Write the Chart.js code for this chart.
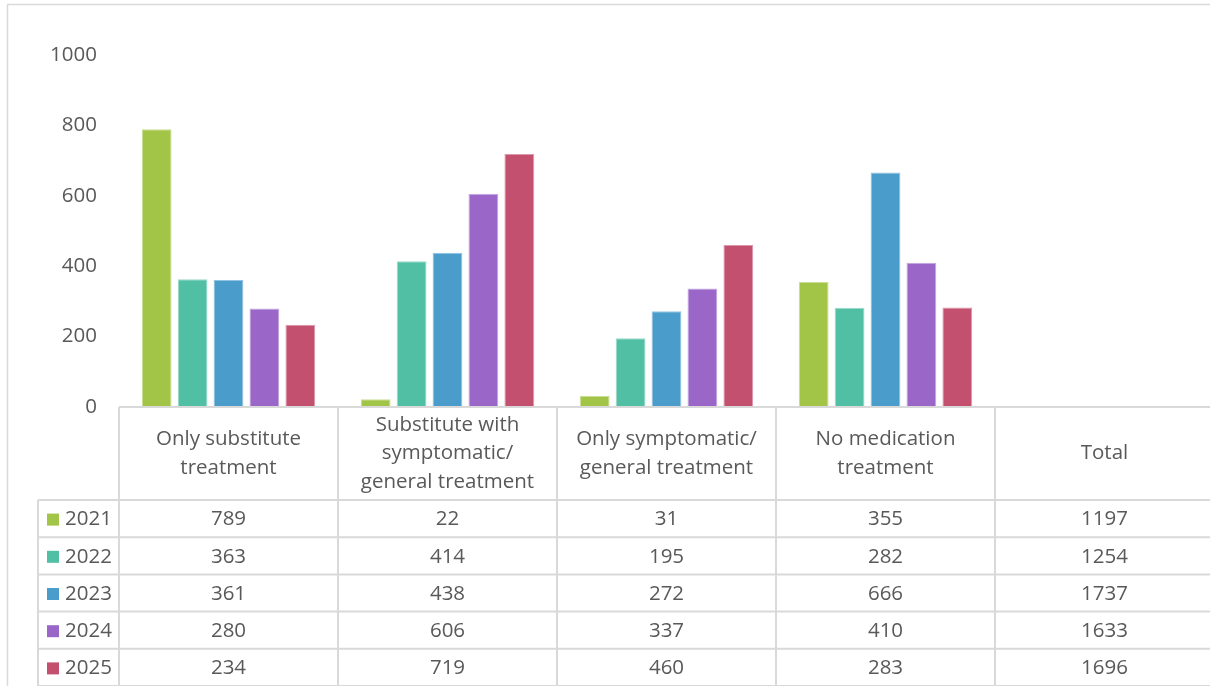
<!DOCTYPE html>
<html>
<head>
<meta charset="utf-8">
<script src="https://cdn.jsdelivr.net/npm/chart.js@4/dist/chart.umd.min.js"></script>
<style>
  html, body { margin: 0; padding: 0; background: #ffffff; }
  #wrap { position: absolute; left: 0; top: 0; width: 1210px; height: 686px; overflow: hidden; background: #fff; }
  canvas { display: block; }
</style>
</head>
<body>
<div id="wrap"><canvas id="c" width="1214" height="686" style="width:1214px;height:686px"></canvas></div>
<script>
// ---- data ----
const categories = [
  ["Only substitute", "treatment"],
  ["Substitute with", "symptomatic/", "general treatment"],
  ["Only symptomatic/", "general treatment"],
  ["No medication", "treatment"],
  ["Total"]
];
const years = ["2021", "2022", "2023", "2024", "2025"];
const s2021 = [789, 22, 31, 355, null];
const s2022 = [363, 414, 195, 282, null];
const s2023 = [361, 438, 272, 666, null];
const s2024 = [280, 606, 337, 410, null];
const s2025 = [234, 719, 460, 283, null];
const totals = [1197, 1254, 1737, 1633, 1696];
const yTicks = [0, 200, 400, 600, 800, 1000];

const colors = ["#A2C547", "#51BFA4", "#4A9CCB", "#9A67C9", "#C4506F"];
const borders = ["#C9DD93", "#9ADAC9", "#93C3E0", "#C3A6DF", "#DC97AA"];
const seriesList = [s2021, s2022, s2023, s2024, s2025];

const FONT = "'Open Sans', 'Liberation Sans', sans-serif";
const FSIZE = 20.5;
const TXT = "#595959";
const LINE = "#D9D9D9";

const datasets = seriesList.map((s, i) => ({
  label: years[i],
  data: s,
  backgroundColor: colors[i],
  borderColor: borders[i],
  borderWidth: 1,
  categoryPercentage: 0.82,
  barPercentage: 0.83
}));

const frame = {
  id: 'frame',
  beforeDraw(chart) {
    const ctx = chart.ctx;
    ctx.save();
    ctx.fillStyle = '#fff';
    ctx.fillRect(0, 0, chart.width, chart.height);
    ctx.strokeStyle = LINE;
    ctx.lineWidth = 1.5;
    ctx.beginPath();
    ctx.moveTo(7.5, 700);
    ctx.lineTo(7.5, 4.5);
    ctx.lineTo(1300, 4.5);
    ctx.stroke();
    ctx.restore();
  }
};

const tablePlugin = {
  id: 'dataTable',
  afterDraw(chart) {
    const ctx = chart.ctx;
    const x = chart.scales.x;
    const n = categories.length;
    const colW = x.width / n;
    const top = chart.chartArea.bottom;
    const headerH = 93;
    const rowH = 37.2;
    const legendLeft = 38;
    const right = chart.width;
    const rowsTop = top + headerH;
    const bottom = rowsTop + rowH * years.length;

    ctx.save();
    ctx.strokeStyle = LINE;
    ctx.lineWidth = 2;
    ctx.beginPath();
    ctx.moveTo(x.left, top); ctx.lineTo(right, top);
    for (let r = 0; r <= years.length; r++) {
      const y = rowsTop + r * rowH;
      ctx.moveTo(legendLeft, y); ctx.lineTo(right, y);
    }
    for (let c = 0; c <= n; c++) {
      const xp = x.getPixelForValue(0) - colW / 2 + c * colW;
      ctx.moveTo(xp, top); ctx.lineTo(xp, bottom);
    }
    ctx.moveTo(legendLeft, rowsTop); ctx.lineTo(legendLeft, bottom);
    ctx.stroke();

    ctx.fillStyle = TXT;
    ctx.font = FSIZE + "px " + FONT;
    ctx.textAlign = 'center';
    ctx.textBaseline = 'middle';
    const lh = 28.5;
    categories.forEach((lines, c) => {
      const cx = x.getPixelForValue(c);
      const cy = top + headerH / 2;
      lines.forEach((t, k) => {
        ctx.fillText(t, cx, cy + (k - (lines.length - 1) / 2) * lh);
      });
    });
    years.forEach((yr, r) => {
      const cy = rowsTop + r * rowH + rowH / 2 + 1;
      ctx.fillStyle = colors[r];
      ctx.fillRect(47, cy - 6, 12, 12);
      ctx.fillStyle = TXT;
      ctx.textAlign = 'left';
      ctx.fillText(yr, 65, cy);
      ctx.textAlign = 'center';
      for (let c = 0; c < n; c++) {
        const v = (c < n - 1) ? seriesList[r][c] : totals[r];
        ctx.fillText(String(v), x.getPixelForValue(c), cy);
      }
    });
    ctx.restore();
  }
};

new Chart(document.getElementById('c'), {
  type: 'bar',
  data: { labels: categories, datasets },
  options: {
    responsive: false,
    animation: false,
    devicePixelRatio: 1,
    layout: { padding: { top: 55, right: 0, bottom: 0, left: 0 } },
    plugins: { legend: { display: false }, tooltip: { enabled: false }, title: { display: false } },
    scales: {
      x: {
        grid: { display: false, drawTicks: false },
        border: { display: false },
        ticks: { display: false },
        afterFit(scale) { scale.height = 279; }
      },
      y: {
        min: 0, max: 1000,
        afterBuildTicks(scale) { scale.ticks = yTicks.map(v => ({ value: v })); },
        grid: { display: false, drawTicks: false },
        border: { display: false },
        ticks: { color: TXT, font: { family: FONT, size: FSIZE }, padding: 22, callback: v => String(v) },
        afterFit(scale) { scale.width = 119; }
      }
    }
  },
  plugins: [frame, tablePlugin]
});
</script>
</body>
</html>
